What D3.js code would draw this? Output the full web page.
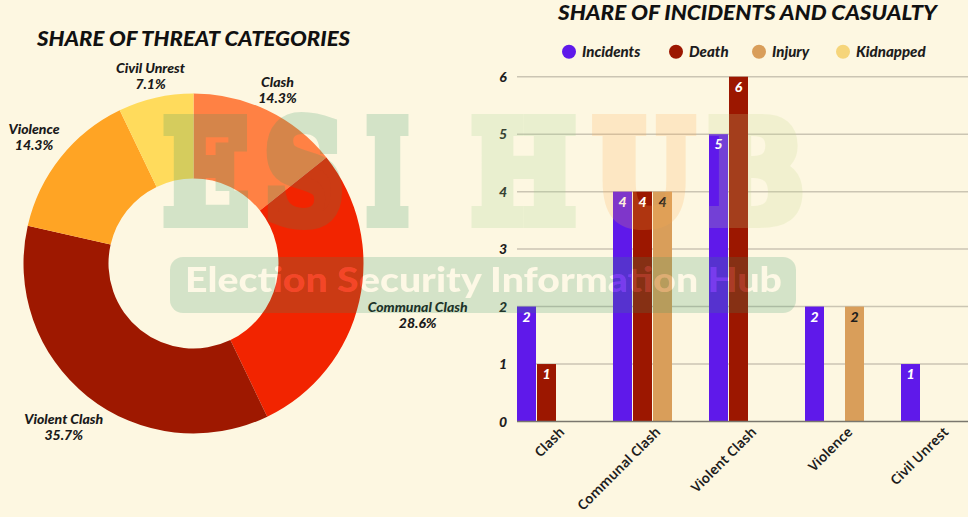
<!DOCTYPE html>
<html><head><meta charset="utf-8">
<script src="https://cdn.jsdelivr.net/npm/d3@7"></script>
<style>html,body{margin:0;padding:0;background:#fdf7e1;overflow:hidden}</style>
</head><body><svg id="c" width="968" height="517"></svg>
<script>
// ---------- DATA ----------
const threatCategories = ["Clash", "Communal Clash", "Violent Clash", "Violence", "Civil Unrest"];
const threatCounts = [2, 4, 5, 2, 1];
const threatColors = ["#ff8144", "#f22400", "#9e1800", "#ffa424", "#ffdb5c"];

const barCategories = ["Clash", "Communal Clash", "Violent Clash", "Violence", "Civil Unrest"];
const seriesNames = ["Incidents", "Death", "Injury", "Kidnapped"];
const incidents = [2, 4, 5, 2, 1];
const death = [1, 4, 6, 0, 0];
const injury = [0, 4, 0, 2, 0];
const kidnapped = [0, 0, 0, 0, 0];
const seriesColors = ["#5f19ea", "#9c1700", "#d99e5a", "#f6d57a"];
const seriesLabelColors = ["#ffffff", "#ffffff", "#1d1d1d", "#1d1d1d"];
const yTicks = [0, 1, 2, 3, 4, 5, 6];

const leftTitle = "SHARE OF THREAT CATEGORIES";
const rightTitle = "SHARE OF INCIDENTS AND CASUALTY";

// ---------- SETUP ----------
const svg = d3.select("#c");
const FONT = "Lato, 'Open Sans', sans-serif";
svg.append("rect").attr("width", 968).attr("height", 517).attr("fill", "#fdf7e1");

// ---------- DONUT ----------
const cx = 193.5, cy = 263.5, rOuter = 170, rInner = 85;
const pie = d3.pie().sort(null).value(d => d)(threatCounts);
const arc = d3.arc().innerRadius(rInner).outerRadius(rOuter);
const gD = svg.append("g").attr("transform", `translate(${cx},${cy})`);
gD.selectAll("path").data(pie).join("path")
  .attr("d", arc).attr("fill", (d, i) => threatColors[i]);

const total = d3.sum(threatCounts);
const pct = d3.format(".1%");
pie.forEach((d, i) => {
  const t = gD.append("text")
    .attr("font-family", FONT).attr("font-weight", 900).attr("font-style", "italic")
    .attr("font-size", 14).attr("fill", "#1a1a1a").attr("text-anchor", "middle");
  t.append("tspan").attr("x", 0).attr("dy", "-0.25em").text(threatCategories[i]);
  t.append("tspan").attr("x", 0).attr("dy", "1.15em").text(pct(threatCounts[i] / total));
  const bb = t.node().getBBox();
  const a = (d.startAngle + d.endAngle) / 2;
  const s = Math.sin(a), c = -Math.cos(a);
  const r = 186 + 0.9 * (bb.width / 2) * Math.abs(s);
  const ty = r * c - (bb.y + bb.height / 2);
  t.attr("transform", `translate(${r * s},${ty})`);
});

svg.append("text").attr("x", 37).attr("y", 46)
  .attr("font-family", FONT).attr("font-weight", 900).attr("font-style", "italic")
  .attr("font-size", 20).attr("fill", "#111")
  .attr("textLength", 313).attr("lengthAdjust", "spacingAndGlyphs")
  .text(leftTitle);

// ---------- BAR CHART ----------
const x0 = d3.scaleBand().domain(barCategories).range([517, 981]).paddingInner(1 / 6).paddingOuter(0);
const x1 = d3.scaleBand().domain(seriesNames).range([0, x0.bandwidth()]);
const y = d3.scaleLinear().domain([0, 6]).range([421.5, 76.7]);
const seriesValues = [incidents, death, injury, kidnapped];

const gB = svg.append("g");
gB.selectAll("line.grid").data(yTicks.filter(t => t > 0)).join("line")
  .attr("x1", 517).attr("x2", 968).attr("y1", d => y(d)).attr("y2", d => y(d))
  .attr("stroke", "#cbc5b3").attr("stroke-width", 1.5);
gB.selectAll("text.yt").data(yTicks).join("text")
  .attr("x", 503).attr("y", d => y(d)).attr("dy", "0.36em").attr("text-anchor", "middle")
  .attr("font-family", FONT).attr("font-weight", 900).attr("font-style", "italic")
  .attr("font-size", 14).attr("fill", "#1d1d1d").text(d => d);

barCategories.forEach((cat, ci) => {
  seriesNames.forEach((sn, si) => {
    const v = seriesValues[si][ci];
    if (!v) return;
    const bx = x0(cat) + x1(sn);
    gB.append("rect").attr("x", bx).attr("y", y(v))
      .attr("width", x1.bandwidth() - 1).attr("height", y(0) - y(v))
      .attr("fill", seriesColors[si]);
    gB.append("text").attr("x", bx + (x1.bandwidth() - 1) / 2).attr("y", y(v) + 15)
      .attr("text-anchor", "middle")
      .attr("font-family", FONT).attr("font-weight", 900).attr("font-style", "italic")
      .attr("font-size", 14).attr("fill", seriesLabelColors[si]).text(v);
  });
});
gB.append("line").attr("x1", 517).attr("x2", 968).attr("y1", y(0)).attr("y2", y(0))
  .attr("stroke", "#7a776e").attr("stroke-width", 1.5);
gB.selectAll("text.xl").data(barCategories).join("text")
  .attr("transform", d => `translate(${x0(d) + x0.bandwidth() / 2 + 5},${y(0) + 8}) rotate(-45)`)
  .attr("text-anchor", "end").attr("dy", "0.35em")
  .attr("font-family", "'Noto Sans', sans-serif").attr("font-weight", 600)
  .attr("font-size", 13.5).attr("fill", "#1d1d1d").text(d => d);

const legX = [569, 676, 759, 843];
seriesNames.forEach((sn, i) => {
  svg.append("circle").attr("cx", legX[i]).attr("cy", 51.7).attr("r", 7).attr("fill", seriesColors[i]);
  svg.append("text").attr("x", legX[i] + 13).attr("y", 51.7).attr("dy", "0.36em")
    .attr("font-family", FONT).attr("font-weight", 900).attr("font-style", "italic")
    .attr("font-size", 15).attr("fill", "#1d1d1d").text(sn);
});

svg.append("text").attr("x", 558).attr("y", 20)
  .attr("font-family", FONT).attr("font-weight", 900).attr("font-style", "italic")
  .attr("font-size", 20).attr("fill", "#111")
  .attr("textLength", 379).attr("lengthAdjust", "spacingAndGlyphs")
  .text(rightTitle);

// ---------- WATERMARK ----------
const wmLetters = [
  {ch: "E", x: 164, w: 84, c: "rgb(50,150,100)"},
  {ch: "S", x: 265, w: 78, c: "rgb(50,150,100)"},
  {ch: "I", x: 367, w: 41, c: "rgb(50,150,100)"},
  {ch: "H", x: 472, w: 103, c: "rgb(158,212,140)"},
  {ch: "U", x: 594, w: 99, c: "rgb(253,172,80)"},
  {ch: "B", x: 709, w: 94, c: "rgb(198,217,140)"}
];
const gW = svg.append("g").attr("pointer-events", "none");
wmLetters.forEach(l => {
  gW.append("g").attr("opacity", 0.2).append("text").attr("x", l.x).attr("y", 221)
    .attr("font-family", "'DejaVu Serif', serif").attr("font-weight", 900)
    .attr("font-size", 137).attr("fill", l.c).attr("stroke", l.c).attr("stroke-width", 14)
    .attr("stroke-linejoin", "miter")
    .attr("textLength", l.w).attr("lengthAdjust", "spacingAndGlyphs").text(l.ch);
});
const defs = svg.append("defs");
const mask = defs.append("mask").attr("id", "pillMask");
mask.append("rect").attr("width", 968).attr("height", 517).attr("fill", "white");
const pillText = "Election Security Information Hub";
mask.append("text").attr("x", 185).attr("y", 292)
  .attr("font-family", "Lato, sans-serif").attr("font-weight", 900).attr("font-size", 35)
  .attr("textLength", 597).attr("lengthAdjust", "spacingAndGlyphs")
  .attr("fill", "black").text(pillText);
gW.append("rect").attr("x", 170).attr("y", 257).attr("width", 626).attr("height", 56).attr("rx", 13)
  .attr("fill", "rgb(50,150,100)").attr("fill-opacity", 0.2).attr("mask", "url(#pillMask)");
gW.append("text").attr("x", 185).attr("y", 292)
  .attr("font-family", "Lato, sans-serif").attr("font-weight", 900).attr("font-size", 35)
  .attr("textLength", 597).attr("lengthAdjust", "spacingAndGlyphs")
  .attr("fill", "white").attr("fill-opacity", 0.18).text(pillText);
</script></body></html>
